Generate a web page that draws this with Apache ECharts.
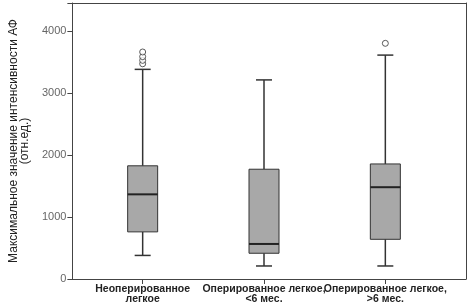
<!DOCTYPE html>
<html><head><meta charset="utf-8">
<script src="https://cdn.jsdelivr.net/npm/echarts@6/dist/echarts.min.js"></script>
<style>html,body{margin:0;padding:0;background:#fff}#c{width:474px;height:308px}</style>
</head><body><div id="c"></div>
<script>
const categories = ['Неоперированное\nлегкое', 'Оперированное легкое,\n<6 мес.', 'Оперированное легкое,\n>6 мес.'];
const whiskerLow = [380, 210, 210];
const q1 = [760, 415, 640];
const median = [1365, 565, 1480];
const q3 = [1825, 1770, 1855];
const whiskerHigh = [3380, 3210, 3610];
const outliers = [[0, 3470], [0, 3525], [0, 3585], [0, 3660], [2, 3800]];
const yTicks = [0, 1000, 2000, 3000, 4000];

const boxData = categories.map((c, i) => [i, whiskerLow[i], q1[i], median[i], q3[i], whiskerHigh[i]]);
const FONT = 'Liberation Sans, Arial, sans-serif';
const frameLine = {show: true, onZero: false, lineStyle: {color: '#444', width: 1}};
const chart = echarts.init(document.getElementById('c'), null, {renderer: 'canvas'});
chart.setOption({
  animation: false,
  backgroundColor: '#fff',
  grid: [
    {left: 63, right: 8, top: 3, bottom: 29},
    {left: 82, right: 28, top: 3, bottom: 29}
  ],
  xAxis: [
    {type: 'value', gridIndex: 0, position: 'bottom', min: 0, max: 1,
     axisLine: frameLine, axisTick: {show: false}, axisLabel: {show: false}, splitLine: {show: false}},
    {type: 'value', gridIndex: 0, position: 'top', min: 0, max: 1,
     axisLine: frameLine, axisTick: {show: false}, axisLabel: {show: false}, splitLine: {show: false}},
    {type: 'category', gridIndex: 1, data: categories, boundaryGap: true,
     axisLine: {show: false},
     axisTick: {show: true, alignWithLabel: true, length: 5, lineStyle: {color: '#444'}},
     axisLabel: {fontFamily: FONT, fontSize: 10.5, fontWeight: 'bold', color: '#222', margin: 5, lineHeight: 10, interval: 0}}
  ],
  yAxis: [
    {type: 'value', gridIndex: 0, min: 0, max: 4450, interval: 1000,
     axisLine: frameLine,
     axisTick: {show: true, length: 5, lineStyle: {color: '#444'}},
     axisLabel: {fontFamily: FONT, fontSize: 11, color: '#666', margin: 6,
       customValues: yTicks, formatter: v => (v > 4000 ? '' : String(v))},
     splitLine: {show: false},
     name: 'Максимальное значение интенсивности АФ\n(отн.ед.)',
     nameLocation: 'middle', nameRotate: 90, nameGap: 32,
     nameTextStyle: {fontFamily: FONT, fontSize: 12, color: '#222', lineHeight: 11, align: 'center'}},
    {type: 'value', gridIndex: 0, position: 'right', min: 0, max: 4450,
     axisLine: frameLine, axisTick: {show: false}, axisLabel: {show: false}, splitLine: {show: false}},
    {type: 'value', gridIndex: 1, min: 0, max: 4450, show: false}
  ],
  series: [
    {
      type: 'custom', xAxisIndex: 2, yAxisIndex: 2, data: boxData,
      renderItem: function (params, api) {
        const x = api.value(0);
        const pLow = api.coord([x, api.value(1)]);
        const pQ1 = api.coord([x, api.value(2)]);
        const pMed = api.coord([x, api.value(3)]);
        const pQ3 = api.coord([x, api.value(4)]);
        const pHigh = api.coord([x, api.value(5)]);
        const cx = pLow[0];
        const hw = 15, cw = 8;
        const ls = {stroke: '#333', lineWidth: 1.5};
        return {type: 'group', children: [
          {type: 'line', shape: {x1: cx, y1: pLow[1], x2: cx, y2: pQ1[1]}, style: ls},
          {type: 'line', shape: {x1: cx, y1: pQ3[1], x2: cx, y2: pHigh[1]}, style: ls},
          {type: 'line', shape: {x1: cx - cw, y1: pLow[1], x2: cx + cw, y2: pLow[1]}, style: ls},
          {type: 'line', shape: {x1: cx - cw, y1: pHigh[1], x2: cx + cw, y2: pHigh[1]}, style: ls},
          {type: 'rect', shape: {x: cx - hw, y: pQ3[1], width: 2 * hw, height: pQ1[1] - pQ3[1]},
           style: {fill: '#a8a8a8', stroke: '#333', lineWidth: 1}},
          {type: 'line', shape: {x1: cx - hw, y1: pMed[1], x2: cx + hw, y2: pMed[1]}, style: {stroke: '#222', lineWidth: 2}}
        ]};
      }
    },
    {
      type: 'scatter', xAxisIndex: 2, yAxisIndex: 2, data: outliers,
      symbol: 'circle', symbolSize: 6,
      itemStyle: {color: '#fff', borderColor: '#333', borderWidth: 1}
    }
  ]
});
</script></body></html>
